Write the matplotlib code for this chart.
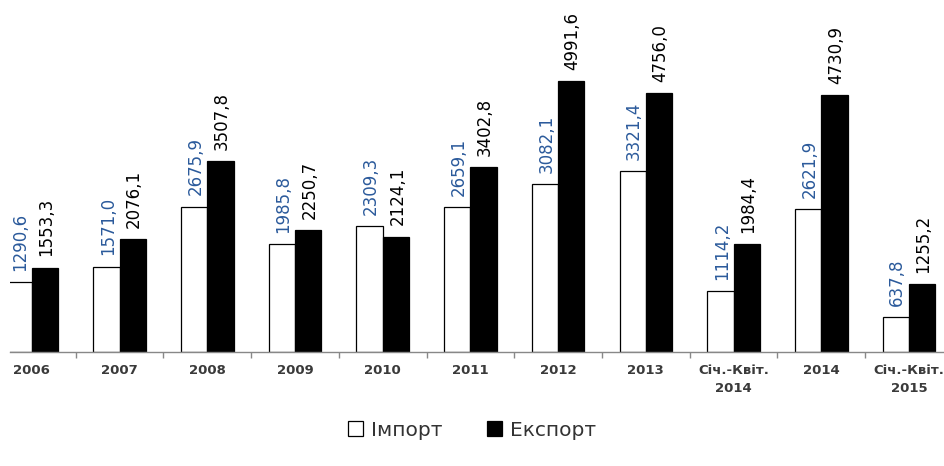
import matplotlib
matplotlib.use("Agg")
import matplotlib.pyplot as plt
import numpy as np
from matplotlib.patches import Patch

categories = ["2006", "2007", "2008", "2009", "2010", "2011", "2012", "2013",
              "Січ.-Квіт.\n2014", "2014", "Січ.-Квіт.\n2015"]
imports = [1290.6, 1571.0, 2675.9, 1985.8, 2309.3, 2659.1, 3082.1, 3321.4, 1114.2, 2621.9, 637.8]
exports = [1553.3, 2076.1, 3507.8, 2250.7, 2124.1, 3402.8, 4991.6, 4756.0, 1984.4, 4730.9, 1255.2]
legend_labels = ["Імпорт", "Експорт"]

def fmt(v):
    return f"{v:.1f}".replace(".", ",")

plt.rcParams['font.family'] = ['DejaVu Sans']
fig = plt.figure(figsize=(9.44, 4.66), dpi=100)
ax = fig.add_axes([10/944, 1-352/466, 1-10/944, 352/466])

x = np.arange(len(categories))
w = 0.30
blue = '#2B5A9B'
ax.bar(x - w/2, imports, w, color='white', edgecolor='black', linewidth=0.9, label=legend_labels[0])
ax.bar(x + w/2, exports, w, color='black', edgecolor='black', linewidth=0.9, label=legend_labels[1])

for xi, v in zip(x, imports):
    ax.annotate(fmt(v), (xi - w/2, v), xytext=(1, 8), textcoords='offset points',
                rotation=90, ha='center', va='bottom', fontsize=12, color=blue, clip_on=False)
for xi, v in zip(x, exports):
    ax.annotate(fmt(v), (xi + w/2, v), xytext=(1, 8), textcoords='offset points',
                rotation=90, ha='center', va='bottom', fontsize=12, color='black', clip_on=False)

ax.set_xlim(-0.25, 10.40)
ax.set_ylim(0, 6475)
ax.set_xticks(x)
ax.set_xticklabels(categories, fontsize=9.5, fontweight='bold', color='#3a3a3a', linespacing=1.5)
ax.set_xticks(x[:-1] + 0.5, minor=True)
ax.tick_params(axis='x', which='major', length=0, pad=9)
ax.tick_params(axis='x', which='minor', length=4, direction='out', color='#888888', width=1)
ax.set_yticks([])
for s in ['left', 'right', 'top']:
    ax.spines[s].set_visible(False)
ax.spines['bottom'].set_color('#888888')
ax.spines['bottom'].set_linewidth(1)

handles = [Patch(facecolor='white', edgecolor='black', linewidth=0.9),
           Patch(facecolor='black', edgecolor='black', linewidth=0.9)]
fig.legend(handles, legend_labels, loc='center', bbox_to_anchor=(0.5, 1-430/466), ncol=2,
           frameon=False, fontsize=14.5, handlelength=0.75, handleheight=0.75,
           handletextpad=0.4, columnspacing=2.2, labelcolor='#333333')

fig.savefig("out.png", dpi=100)
